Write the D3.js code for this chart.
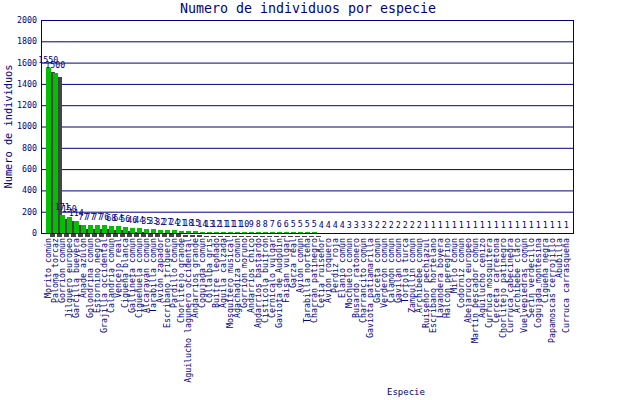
<!DOCTYPE html>
<html><head><meta charset="utf-8">
<script src="https://cdn.jsdelivr.net/npm/d3@7"></script>
<style>body{margin:0;background:#fff}svg{display:block}text{font-family:"DejaVu Sans Mono",monospace}</style>
</head><body>
<svg id="c" width="640" height="400"></svg>
<script>
const species = ["Morito común","Paloma torcaz","Gorrión común","Jilguero europeo","Garcilla bueyera","Ánade azulón","Golondrina común","Estornino negro","Grajilla occidental","Calandria común","Vencejo real","Cigüeña blanca","Gallineta común","Cigüeñuela común","Alcaraván común","Tarabilla común","Avión zapador","Escribano triguero","Pardillo común","Chorlitejo grande","Aguilucho lagunero occidental","Andarríos grande","Cogujada común","Collalba gris","Buitre leonado","Águila calzada","Mosquitero musical","Agachadiza común","Gorrión moruno","Andarríos chico","Andarríos bastardo","Cistícola buitrón","Cernícalo vulgar","Gaviota de Audouin","Faisán vulgar","Garza real","Avión común","Tarabilla norteña","Charrán patinegro","Cetia ruiseñor","Avión roquero","Perdiz roja","Elanio común","Mochuelo común","Busardo ratonero","Charrancito común","Gaviota patiamarilla","Garceta común","Verderón común","Calamón común","Gavilán común","Tórtola turca","Zampullín común","Archibebe común","Ruiseñor pechiazul","Escribano hortelano","Lavandera boyera","Halcón peregrino","Mirlo común","Codorniz común","Abejaruco europeo","Martín pescador común","Aguilucho cenizo","Curruca mosquitera","Cerceta carretona","Chorlitejo patinegro","Curruca cabecinegra","Archibebe claro","Vuelvepiedras común","Serín verdecillo","Cogujada montesina","Cigüeña negra","Papamoscas cerrojillo","Abubilla","Curruca carrasqueña"];
const counts = [1550,1500,171,150,114,77,77,77,76,68,64,56,46,44,35,33,32,27,24,21,18,15,14,13,12,11,11,11,10,9,8,8,7,6,6,5,5,5,5,4,4,4,4,3,3,3,3,2,2,2,2,2,2,2,1,1,1,1,1,1,1,1,1,1,1,1,1,1,1,1,1,1,1,1,1];
const yTicks = [0,200,400,600,800,1000,1200,1400,1600,1800,2000];
const title = "Numero de individuos por especie";
const xTitle = "Especie";
const yTitle = "Numero de individuos";

const navy = "#000080", green = "#00c000", shadow = "#444444";
const L = 41, R = 573, T = 20, B = 233;
const svg = d3.select("#c");
const x = d3.scaleBand().domain(species).range([44, 44 + 7 * species.length]).paddingInner(0).paddingOuter(0);
const y = d3.scaleLinear().domain([0, 2000]).range([B, T]);
const bw = 4.5, off = 4;

// gridlines
svg.append("g").selectAll("line").data(yTicks).join("line")
  .attr("x1", L).attr("x2", R).attr("y1", d => y(d) + 0.5).attr("y2", d => y(d) + 0.5)
  .attr("stroke", navy).attr("stroke-width", 1);

// bars with shadows
const bars = svg.append("g").attr("shape-rendering", "crispEdges");
species.forEach((s, i) => {
  const x0 = x(s) + 2, top = y(counts[i]);
  bars.append("rect").attr("x", x0 + off).attr("y", top + off).attr("width", bw).attr("height", B - top).attr("fill", shadow);
  bars.append("rect").attr("x", x0).attr("y", top).attr("width", bw).attr("height", B - top).attr("fill", green);
});

// frame: left axis, right border, x axis
svg.append("line").attr("x1", L + 0.5).attr("x2", L + 0.5).attr("y1", T).attr("y2", B + 1).attr("stroke", navy);
svg.append("line").attr("x1", R + 0.5).attr("x2", R + 0.5).attr("y1", T).attr("y2", B + 1).attr("stroke", navy);
svg.append("line").attr("x1", L).attr("x2", R + 1).attr("y1", B + 0.5).attr("y2", B + 0.5).attr("stroke", navy);

// value labels
svg.append("g").selectAll("text").data(species).join("text")
  .attr("x", (d, i) => x(d) + 2 + bw / 2).attr("y", (d, i) => y(counts[i]) - 5)
  .attr("text-anchor", "middle").attr("font-size", "8.3px").attr("fill", navy)
  .text((d, i) => counts[i]);

// y tick labels
svg.append("g").selectAll("text").data(yTicks).join("text")
  .attr("x", 37).attr("y", d => y(d)).attr("dy", "0.35em").attr("text-anchor", "end")
  .attr("font-size", "8.3px").attr("fill", navy).text(d => d);

// x tick labels
svg.append("g").selectAll("text").data(species).join("text")
  .attr("transform", d => `translate(${x(d) + 3.7},238) rotate(-90)`)
  .attr("dy", "0.35em").attr("text-anchor", "end")
  .attr("font-size", "8.3px").attr("fill", navy).text(d => d);

// titles
svg.append("text").attr("x", 308).attr("y", 13).attr("text-anchor", "middle")
  .attr("font-size", "13.3px").attr("fill", navy).text(title);
svg.append("text").attr("x", 406).attr("y", 395).attr("text-anchor", "middle")
  .attr("font-size", "9px").attr("fill", navy).text(xTitle);
svg.append("text").attr("transform", `translate(8,${(T + B) / 2}) rotate(-90)`).attr("dy", "0.35em")
  .attr("text-anchor", "middle").attr("font-size", "10.3px").attr("fill", navy).text(yTitle);
</script>
</body></html>
